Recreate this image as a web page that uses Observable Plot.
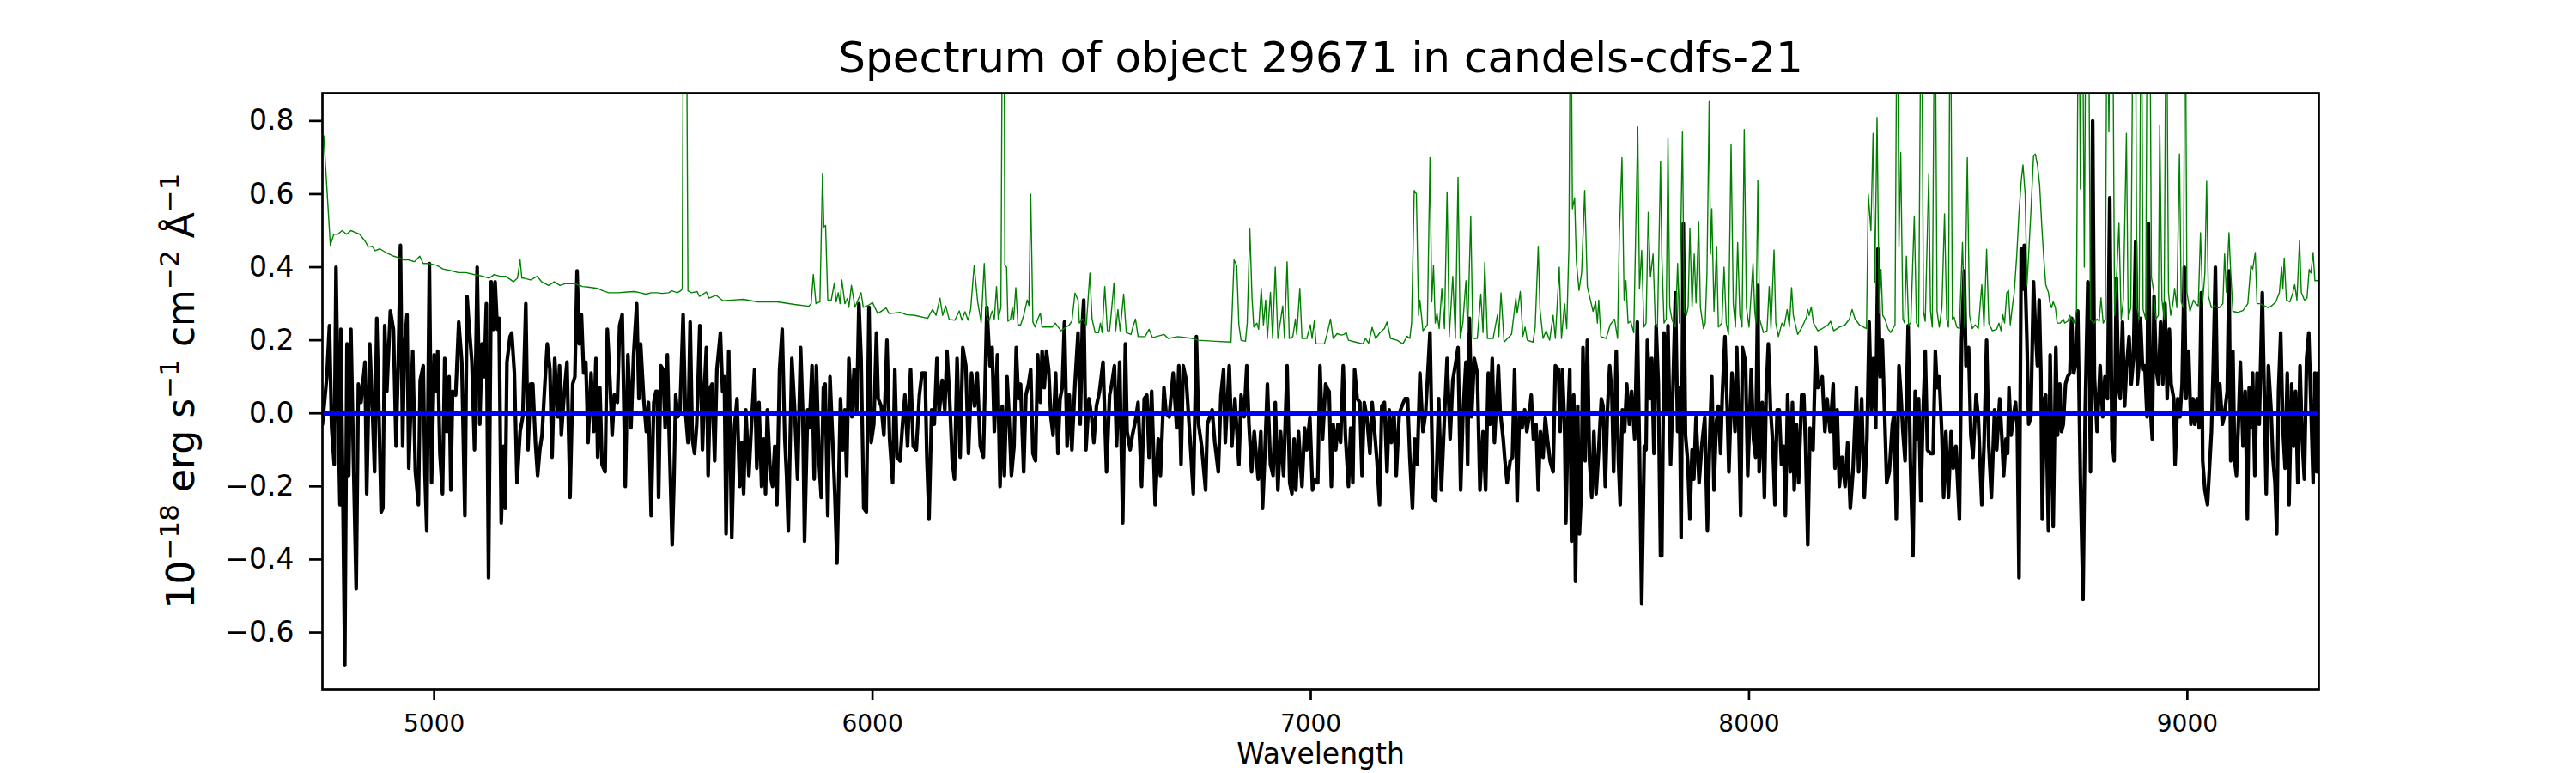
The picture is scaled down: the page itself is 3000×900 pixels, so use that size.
<!DOCTYPE html>
<html>
<head>
<meta charset="utf-8">
<script src="https://cdn.jsdelivr.net/npm/d3@7"></script>
<script src="https://cdn.jsdelivr.net/npm/@observablehq/plot@0.6"></script>
<style>
  html, body { margin: 0; padding: 0; background: #ffffff; }
</style>
</head>
<body>
<div id="chart"></div>
<script>
const titleText = ["Spectrum of object 29671 in candels-cdfs-21"];
const xLabelText = ["Wavelength"];
const yLabelParts = [["10", false], ["−18", true], [" erg s", false], ["−1", true], [" cm", false], ["−2", true], [" Å", false], ["−1", true]];
const xTicks = [5000, 6000, 7000, 8000, 9000];
const yTicks = [-0.6, -0.4, -0.2, 0, 0.2, 0.4, 0.6, 0.8];
const zeroLevel = [0];

// object flux [wavelength, flux]
const objectFlux = [
[4745,-0.03],[4755,0.10],[4761,0.24],[4766,-0.04],[4772,-0.14],[4776,0.40],[4781,-0.01],[4785,-0.25],[4787,0.23],[4792,-0.26],[4796,-0.69],[4801,0.19],[4805,-0.17],[4810,0.23],[4816,-0.14],[4822,-0.48],[4827,0.08],[4833,0.03],[4842,0.14],[4846,-0.22],[4853,0.19],[4859,0.01],[4864,-0.16],[4869,0.26],[4879,-0.27],[4883,-0.26],[4887,0.24],[4892,0.06],[4900,0.28],[4907,0.23],[4913,-0.09],[4918,0.14],[4923,0.46],[4928,-0.09],[4932,0.18],[4938,0.27],[4942,-0.15],[4951,0.17],[4957,-0.16],[4964,-0.25],[4968,0.09],[4975,0.13],[4979,-0.17],[4983,-0.32],[4989,0.41],[4994,-0.19],[5000,0.16],[5004,0.06],[5008,0.17],[5013,-0.11],[5019,-0.22],[5024,0.15],[5029,-0.05],[5034,0.10],[5038,-0.21],[5042,0.06],[5049,0.05],[5056,0.25],[5063,0.14],[5070,-0.28],[5075,0.32],[5079,0.25],[5086,0.14],[5092,-0.10],[5098,0.40],[5104,-0.03],[5109,0.19],[5114,0.10],[5119,0.30],[5124,-0.45],[5130,0.36],[5136,0.23],[5139,0.36],[5144,0.23],[5148,0.26],[5153,-0.30],[5158,-0.09],[5162,-0.26],[5166,0.14],[5173,0.21],[5177,0.22],[5183,0.11],[5189,-0.19],[5196,-0.05],[5202,-0.01],[5209,0.30],[5214,-0.10],[5220,0.08],[5225,0.08],[5231,-0.08],[5236,-0.17],[5241,-0.10],[5246,-0.06],[5252,0.07],[5258,0.19],[5264,0.12],[5269,-0.12],[5275,0.15],[5282,-0.01],[5286,0.13],[5290,-0.06],[5297,0.06],[5303,0.14],[5310,-0.23],[5316,0.08],[5321,0.10],[5326,0.39],[5331,0.19],[5336,0.27],[5341,0.11],[5346,0.14],[5351,-0.08],[5358,0.11],[5364,-0.05],[5369,0.15],[5373,-0.12],[5378,0.07],[5383,-0.14],[5390,-0.16],[5395,0.23],[5401,0.09],[5406,-0.06],[5411,0.05],[5418,0.03],[5423,0.24],[5429,0.27],[5436,-0.20],[5442,0.16],[5449,-0.04],[5455,0.16],[5462,0.30],[5467,0.04],[5471,0.19],[5478,0.04],[5484,-0.05],[5489,0.03],[5495,-0.28],[5501,0.03],[5506,0.06],
[5509,0.06],[5512,-0.23],[5517,0.13],[5522,0.12],[5527,-0.04],[5532,0.16],[5536,-0.05],[5543,-0.36],[5547,-0.19],[5551,0.05],[5556,-0.01],[5561,0.01],[5568,0.27],[5573,0.01],[5579,-0.08],[5584,0.25],[5589,-0.07],[5594,-0.11],[5599,-0.03],[5606,0.24],[5612,-0.10],[5617,0.08],[5621,0.18],[5625,-0.17],[5630,0.07],[5634,0.08],[5640,-0.13],[5645,0.12],[5653,0.22],[5658,0.06],[5662,0.10],[5666,-0.33],[5672,0.17],[5679,-0.34],[5685,-0.04],[5691,0.04],[5697,-0.20],[5702,-0.08],[5706,-0.22],[5711,0.01],[5718,-0.17],[5724,-0.03],[5731,0.12],[5736,-0.15],[5741,0.03],[5747,-0.20],[5752,-0.07],[5756,-0.22],[5760,0.01],[5767,-0.17],[5772,-0.20],[5777,-0.09],[5782,-0.25],[5788,0.12],[5794,0.23],[5800,-0.07],[5804,-0.17],[5808,-0.32],[5816,0.15],[5822,0.02],[5829,-0.18],[5836,0.18],[5841,0.00],[5845,-0.35],[5852,0.01],[5856,-0.04],[5862,0.13],[5867,-0.18],[5872,0.13],[5878,-0.13],[5883,-0.23],[5888,0.07],[5892,0.08],[5898,-0.28],[5903,0.10],[5909,-0.07],[5914,-0.22],[5919,-0.41],[5927,0.04],[5932,-0.10],[5937,0.01],[5941,-0.17],[5946,0.15],[5953,-0.01],[5958,0.12],[5964,0.00],[5969,0.30],[5974,0.15],[5980,-0.26],[5986,-0.27],[5992,0.29],[5997,-0.08],[6003,-0.03],[6009,0.22],[6013,0.04],[6020,0.02],[6026,-0.06],[6033,0.20],[6039,-0.07],[6046,-0.19],[6051,0.12],[6056,-0.12],[6063,-0.13],[6068,-0.04],[6074,0.05],[6080,-0.09],[6087,0.12],[6093,-0.09],[6100,-0.10],[6107,0.05],[6113,0.11],[6120,0.11],[6124,-0.12],[6129,-0.29],[6135,0.01],[6141,-0.03],[6147,0.15],[6152,0.00],[6159,0.09],[6165,0.01],[6170,0.17],[6176,0.04],[6182,-0.13],[6187,-0.18],[6193,0.15],[6200,-0.12],[6206,0.18],[6213,0.13],[6219,-0.11],[6226,0.11],[6233,0.02],[6239,0.11],[6246,-0.09],[6253,-0.12],[6261,0.29],[6268,0.13],
[6273,0.18],[6278,-0.05],[6285,0.16],[6291,-0.20],[6296,0.02],[6301,-0.17],[6307,0.10],[6311,0.01],[6317,-0.17],[6323,-0.09],[6328,0.18],[6333,0.04],[6338,0.08],[6345,-0.16],[6350,0.05],[6356,0.08],[6361,0.12],[6366,-0.11],[6372,-0.13],[6377,0.16],[6383,0.03],[6387,0.17],[6392,0.07],[6397,0.17],[6402,0.12],[6407,-0.01],[6412,-0.06],[6418,0.11],[6423,-0.11],[6428,0.04],[6433,0.07],[6438,0.25],[6444,-0.09],[6449,0.05],[6455,-0.10],[6462,0.08],[6469,0.22],[6474,-0.03],[6479,0.25],[6482,0.31],[6487,-0.10],[6494,0.04],[6500,-0.01],[6505,-0.08],[6511,0.02],[6518,0.06],[6526,0.14],[6534,-0.16],[6541,0.05],[6546,0.08],[6552,0.13],[6557,-0.09],[6564,0.14],[6571,-0.30],[6577,0.19],[6581,-0.05],[6588,-0.10],[6593,-0.06],[6600,-0.02],[6606,0.03],[6614,-0.20],[6620,0.04],[6626,0.05],[6631,-0.12],[6637,0.06],[6645,-0.25],[6652,-0.07],[6657,-0.17],[6665,0.07],[6670,0.00],[6677,-0.01],[6686,0.11],[6694,-0.04],[6699,0.13],[6704,-0.14],[6709,0.13],[6716,0.09],[6724,-0.06],[6732,-0.22],[6739,0.21],[6744,-0.03],[6751,-0.09],[6760,-0.21],[6764,-0.03],[6775,0.01],[6781,-0.08],[6789,-0.16],[6795,0.05],[6801,0.12],[6805,-0.08],[6814,0.13],[6820,-0.09],[6827,0.04],[6836,-0.14],[6841,0.05],[6848,-0.01],[6854,0.13],[6859,-0.03],[6865,-0.16],[6871,-0.05],[6880,-0.18],[6886,-0.05],[6890,-0.26],[6895,-0.12],[6901,0.08],[6908,-0.14],[6914,-0.17],[6919,0.03],[6925,-0.21],[6931,-0.05],[6938,-0.17],[6946,0.13],[6952,-0.19],[6957,-0.22],[6962,-0.07],[6966,-0.21],[6972,-0.05],[6980,-0.20],[6986,-0.04],[6991,-0.10],[6998,-0.01],[7004,-0.21],[7010,-0.18],[7016,-0.19],[7021,0.13],[7027,-0.07],[7034,0.08],
[7037,0.07],[7042,0.06],[7047,-0.20],[7051,-0.03],[7057,-0.10],[7062,-0.03],[7068,-0.08],[7074,0.13],[7079,-0.06],[7086,-0.20],[7091,-0.04],[7096,-0.19],[7100,0.12],[7106,0.04],[7112,0.03],[7117,-0.17],[7122,0.03],[7128,-0.01],[7135,-0.11],[7140,0.03],[7145,-0.04],[7151,-0.13],[7157,-0.25],[7162,0.02],[7168,0.03],[7174,-0.16],[7179,0.01],[7184,-0.08],[7190,0.00],[7195,-0.17],[7202,0.00],[7208,0.02],[7215,0.04],[7221,0.04],[7226,-0.12],[7232,-0.26],[7237,-0.07],[7243,-0.14],[7249,0.11],[7256,-0.05],[7262,0.00],[7272,0.22],[7279,-0.23],[7285,-0.24],[7292,0.04],[7298,-0.21],[7305,-0.01],[7311,0.15],[7318,-0.07],[7324,0.09],[7331,0.14],[7336,0.18],[7342,-0.21],[7347,-0.01],[7354,0.14],[7358,-0.14],[7362,0.26],[7367,-0.01],[7373,0.15],[7380,0.11],[7386,-0.21],[7393,-0.05],[7399,-0.21],[7405,0.11],[7409,-0.03],[7414,0.15],[7419,-0.08],[7428,0.13],[7432,0.01],[7439,-0.07],[7443,-0.13],[7448,-0.19],[7455,-0.13],[7460,-0.12],[7465,0.12],[7471,-0.24],[7476,0.00],[7482,-0.04],[7488,0.01],[7493,-0.05],[7498,-0.01],[7503,0.05],[7508,-0.07],[7514,-0.03],[7519,-0.21],[7524,-0.05],[7530,-0.12],[7535,-0.01],[7540,-0.07],[7546,-0.13],[7553,-0.16],[7558,0.13],[7565,0.12],[7569,-0.05],[7574,0.12],[7579,-0.03],[7582,-0.30],[7587,-0.01],[7591,0.12],[7595,-0.35],[7600,0.05],[7604,-0.46],[7609,0.02],[7613,-0.33],[7617,-0.22],[7621,0.18],[7626,-0.13],[7631,0.20],[7636,-0.13],[7641,-0.23],[7646,-0.05],[7651,-0.22],[7656,-0.12],[7663,0.04],[7667,0.02],[7672,-0.20],[7677,0.01],[7682,0.13],[7687,0.05],[7691,-0.16],[7697,0.17],[7702,-0.13],[7706,-0.25],[7711,0.01],[7716,-0.05],[7721,0.08],[7727,-0.03],[7732,0.06],[7739,-0.07],[7745,0.25],[7750,-0.10],[7755,-0.52],[7761,-0.09],[7765,-0.10],[7768,0.20],[7774,0.04],[7778,0.15],[7783,-0.11],[7788,0.24],[7793,0.08],[7798,-0.39],
[7801,-0.39],[7806,0.22],[7811,0.01],[7815,0.24],[7821,-0.14],[7826,0.05],[7832,0.33],[7837,-0.05],[7841,0.07],[7845,-0.34],[7850,0.52],[7855,-0.06],[7860,-0.13],[7865,-0.29],[7870,-0.10],[7874,-0.18],[7879,-0.01],[7886,-0.19],[7892,-0.09],[7899,-0.01],[7905,-0.32],[7911,-0.04],[7915,0.10],[7920,-0.21],[7925,-0.03],[7930,0.02],[7935,-0.11],[7939,0.05],[7945,0.21],[7950,0.02],[7954,-0.16],[7961,0.11],[7968,-0.05],[7972,0.18],[7976,0.00],[7981,-0.28],[7985,0.18],[7992,0.14],[7997,-0.17],[8005,0.12],[8010,-0.07],[8015,-0.12],[8020,0.35],[8023,-0.16],[8030,0.03],[8035,-0.23],[8039,0.05],[8044,0.19],[8049,0.01],[8054,-0.08],[8059,-0.25],[8064,0.01],[8069,0.01],[8074,-0.14],[8079,-0.09],[8083,-0.28],[8088,0.05],[8094,-0.16],[8099,0.03],[8103,-0.21],[8108,-0.03],[8113,-0.19],[8120,0.05],[8125,0.05],[8129,-0.09],[8134,-0.36],[8139,-0.04],[8146,-0.10],[8152,0.18],[8157,0.07],[8161,0.08],[8167,0.10],[8173,-0.05],[8178,0.04],[8185,-0.05],[8192,0.08],[8196,-0.15],[8201,0.01],[8206,-0.20],[8212,-0.12],[8219,-0.20],[8225,-0.08],[8231,-0.26],[8237,-0.16],[8245,0.07],[8250,-0.16],[8257,0.04],[8263,-0.23],[8269,-0.07],[8274,0.25],[8279,0.01],[8284,0.15],[8289,-0.04],[8294,0.45],[8299,0.10],[8304,0.20],[8309,0.01],[8314,-0.19],[8320,-0.16],[8327,-0.03],[8331,0.00],[8336,-0.29],[8342,0.13],[8346,0.06],[8351,-0.05],[8356,-0.13],[8363,0.24],[8368,-0.13],[8374,-0.39],[8379,0.06],[8384,-0.07],[8387,0.04],[8392,-0.24],[8397,0.00],[8402,0.17],[8407,-0.10],[8414,-0.11],[8420,-0.11],[8425,0.17],[8429,0.07],[8434,0.10],[8440,-0.06],[8444,-0.23],[8449,-0.05],[8455,-0.23],[8461,-0.05],[8466,-0.15],[8472,-0.09],[8480,-0.29],[8485,0.20],[8491,0.39],[8495,0.13],[8501,0.18],[8506,-0.06],[8511,-0.12],[8518,0.05],[8523,-0.01],[8527,-0.13],[8531,-0.25],[8536,-0.09],[8542,0.20],[8547,-0.09],[8553,-0.23],[8560,0.01],
[8565,-0.10],[8572,0.04],[8577,-0.07],[8581,-0.17],[8586,-0.07],[8590,-0.11],[8593,0.07],[8598,-0.06],[8603,-0.01],[8608,0.03],[8612,-0.04],[8616,-0.45],[8621,0.45],[8625,0.34],[8628,0.46],[8634,0.20],[8638,-0.03],[8643,-0.01],[8649,0.36],[8653,0.24],[8658,0.13],[8662,0.31],[8666,0.11],[8669,-0.29],[8674,0.04],[8677,0.05],[8683,-0.32],[8687,0.16],[8691,-0.13],[8694,-0.31],[8700,0.18],[8704,-0.06],[8709,0.08],[8713,-0.05],[8717,-0.03],[8722,0.08],[8727,0.10],[8732,0.11],[8736,0.26],[8741,0.11],[8747,0.15],[8750,0.28],[8756,-0.18],[8762,-0.51],[8767,0.01],[8773,0.36],[8775,0.35],[8779,-0.16],[8784,0.80],[8788,0.10],[8794,-0.05],[8798,0.05],[8801,0.13],[8807,-0.01],[8812,0.10],[8818,0.04],[8823,0.59],[8828,-0.07],[8833,-0.13],[8838,0.37],[8843,0.07],[8847,0.04],[8852,0.25],[8857,0.02],[8861,0.12],[8867,0.21],[8872,0.08],[8877,0.15],[8882,0.47],[8886,0.08],[8890,0.14],[8893,0.26],[8898,0.12],[8903,0.13],[8908,-0.01],[8911,0.52],[8916,0.01],[8920,-0.07],[8924,0.32],[8929,0.12],[8934,0.08],[8939,0.25],[8944,0.08],[8949,0.30],[8954,0.04],[8959,0.23],[8963,0.08],[8969,0.04],[8972,-0.14],[8978,0.04],[8983,-0.01],[8988,0.08],[8993,0.40],[8997,0.04],[9003,0.17],[9008,-0.03],[9013,0.04],[9017,-0.03],[9022,0.04],[9027,-0.04],[9032,0.33],[9035,-0.13],[9040,-0.21],[9046,-0.25],[9050,-0.16],[9055,-0.05],[9059,0.12],[9064,0.40],[9069,0.00],[9074,0.08],[9080,-0.03],[9084,-0.01],[9091,0.06],[9095,0.39],[9099,-0.13],[9104,0.17],[9108,-0.13],[9112,-0.17],[9117,-0.01],[9121,0.14],[9127,-0.09],[9132,0.06],[9137,-0.29],[9141,0.07],[9145,-0.04],[9149,0.11],[9154,-0.17],[9159,0.11],[9164,-0.03],[9171,0.33],[9176,0.02],[9180,-0.22],[9185,0.13],[9191,0.01],[9195,-0.12],[9200,-0.19],[9204,-0.33],[9208,0.06],[9213,0.22],[9218,-0.04],[9223,-0.15],[9228,0.11],[9232,-0.25],[9238,0.08],[9243,-0.09],[9247,0.06],[9252,-0.19],[9257,0.13],[9262,-0.07],[9267,-0.18],[9272,0.15],[9277,0.22],[9282,0.02],[9287,-0.19],[9291,0.11],[9295,-0.16],[9298,0.11]
];

// sky / error spectrum [wavelength, value]
const skyError = [
[4748,0.76],[4763,0.46],[4771,0.49],[4780,0.49],[4790,0.50],[4800,0.49],[4810,0.50],[4820,0.495],[4830,0.49],[4843,0.47],[4850,0.455],[4859,0.457],[4865,0.445],[4876,0.45],[4890,0.44],[4908,0.43],[4921,0.425],[4930,0.42],[4941,0.42],[4955,0.415],[4967,0.43],[4975,0.41],[4987,0.41],[5006,0.405],[5020,0.395],[5039,0.39],[5055,0.385],[5072,0.385],[5090,0.38],[5111,0.375],[5125,0.37],[5137,0.38],[5150,0.375],[5163,0.375],[5175,0.365],[5181,0.36],[5190,0.37],[5196,0.42],[5200,0.37],[5205,0.37],[5220,0.365],[5235,0.375],[5245,0.36],[5261,0.35],[5274,0.36],[5287,0.35],[5300,0.355],[5320,0.355],[5339,0.347],[5355,0.345],[5372,0.342],[5385,0.335],[5398,0.33],[5420,0.33],[5440,0.332],[5457,0.333],[5470,0.33],[5483,0.326],[5495,0.33],[5509,0.33],
[5520,0.328],[5535,0.33],[5542,0.335],[5555,0.33],[5562,0.335],[5566,0.34],[5569,1.3],[5575,1.3],[5579,0.335],[5587,0.33],[5600,0.333],[5605,0.32],[5621,0.332],[5627,0.315],[5643,0.323],[5659,0.308],[5680,0.31],[5705,0.312],[5738,0.305],[5783,0.305],[5822,0.298],[5855,0.293],[5860,0.30],[5865,0.38],[5871,0.30],[5880,0.305],[5886,0.656],[5889,0.51],[5893,0.514],[5898,0.31],[5906,0.31],[5913,0.357],[5917,0.305],[5922,0.33],[5926,0.30],[5930,0.365],[5937,0.30],[5943,0.315],[5946,0.29],[5952,0.35],[5960,0.29],[5974,0.33],[5979,0.29],[5990,0.295],[6000,0.303],[6012,0.273],[6031,0.288],[6038,0.273],[6064,0.276],[6077,0.27],[6097,0.268],[6126,0.26],[6137,0.284],[6145,0.268],[6154,0.315],[6160,0.268],[6167,0.294],[6175,0.257],[6188,0.255],[6198,0.28],[6204,0.255],[6211,0.278],[6218,0.255],[6224,0.284],[6232,0.405],[6240,0.305],[6248,0.248],[6255,0.41],[6260,0.268],[6266,0.253],[6273,0.28],
[6278,0.258],[6283,0.347],[6287,0.258],[6293,0.29],[6297,1.3],[6300,1.3],[6302,0.405],[6306,0.40],[6309,0.252],[6315,0.258],[6319,0.29],[6322,0.258],[6327,0.344],[6332,0.242],[6338,0.242],[6345,0.268],[6353,0.31],[6357,0.295],[6361,0.60],[6366,0.25],[6371,0.236],[6377,0.258],[6383,0.274],[6387,0.236],[6410,0.236],[6417,0.247],[6430,0.226],[6449,0.242],[6455,0.252],[6462,0.329],[6469,0.31],[6472,0.247],[6479,0.258],[6488,0.242],[6496,0.384],[6501,0.258],[6508,0.221],[6516,0.221],[6520,0.247],[6524,0.221],[6530,0.347],[6536,0.226],[6541,0.226],[6546,0.29],[6551,0.357],[6555,0.226],[6560,0.284],[6565,0.226],[6573,0.326],[6579,0.221],[6590,0.216],[6594,0.236],[6600,0.258],[6606,0.21],[6622,0.21],[6631,0.23],[6639,0.207],[6665,0.216],[6675,0.205],[6697,0.21],[6730,0.205],[6743,0.20],[6782,0.197],[6818,0.195],[6825,0.42],[6831,0.404],[6836,0.242],[6841,0.20],[6851,0.197],[6855,0.247],[6861,0.504],[6866,0.315],[6870,0.236],[6877,0.247],[6881,0.23],[6887,0.342],[6892,0.242],[6897,0.31],[6901,0.205],[6908,0.331],[6913,0.205],[6919,0.40],[6925,0.205],[6936,0.294],[6940,0.205],[6946,0.415],[6951,0.205],[6959,0.21],[6965,0.258],[6968,0.216],[6975,0.342],[6980,0.205],[6991,0.205],[6999,0.242],[7003,0.205],[7008,0.253],[7012,0.19],[7031,0.19],[7037,0.216],
[7045,0.258],[7051,0.205],[7060,0.218],[7070,0.214],[7076,0.216],[7081,0.221],[7086,0.20],[7102,0.195],[7119,0.19],[7125,0.205],[7132,0.192],[7140,0.235],[7148,0.205],[7158,0.221],[7168,0.232],[7174,0.25],[7182,0.205],[7197,0.20],[7210,0.19],[7220,0.211],[7226,0.205],[7230,0.247],[7236,0.61],[7241,0.60],[7246,0.268],[7249,0.31],[7256,0.226],[7266,0.242],[7272,0.70],[7276,0.305],[7280,0.405],[7284,0.247],[7288,0.274],[7293,0.232],[7299,0.342],[7305,0.232],[7311,0.606],[7316,0.21],[7324,0.375],[7330,0.205],[7336,0.646],[7341,0.205],[7347,0.247],[7354,0.363],[7358,0.221],[7365,0.54],[7370,0.205],[7380,0.205],[7388,0.326],[7393,0.221],[7397,0.413],[7403,0.205],[7416,0.205],[7426,0.27],[7429,0.21],[7434,0.33],[7441,0.195],[7458,0.216],[7468,0.315],[7471,0.274],[7478,0.333],[7484,0.211],[7489,0.236],[7494,0.20],[7507,0.195],[7512,0.236],[7519,0.457],[7523,0.285],[7530,0.205],[7537,0.226],[7545,0.20],[7553,0.268],[7558,0.205],[7567,0.40],[7572,0.205],[7579,0.30],[7584,0.232],[7589,0.457],[7593,1.3],[7597,0.56],[7602,0.59],[7606,0.415],[7612,0.336],[7618,0.385],[7625,0.61],[7631,0.347],[7638,0.31],[7644,0.279],[7650,0.305],[7654,0.247],[7657,0.31],[7662,0.21],[7674,0.205],[7683,0.242],[7693,0.258],[7700,0.205],[7704,0.488],[7710,0.70],[7715,0.31],[7719,0.363],[7724,0.247],[7730,0.252],[7737,0.221],[7746,0.784],[7750,0.34],[7755,0.446],[7760,0.236],[7765,0.247],[7770,0.55],[7775,0.373],[7781,0.436],[7786,0.247],[7791,0.236],[7798,0.69],
[7801,0.43],[7806,0.247],[7811,0.258],[7815,0.753],[7819,0.29],[7824,0.258],[7827,0.247],[7832,0.236],[7837,0.41],[7841,0.247],[7848,0.77],[7852,0.279],[7857,0.268],[7861,0.29],[7865,0.507],[7870,0.29],[7875,0.436],[7879,0.302],[7885,0.525],[7889,0.29],[7896,0.232],[7900,0.247],[7904,0.384],[7909,0.853],[7912,0.436],[7915,0.56],[7920,0.279],[7926,0.457],[7930,0.236],[7938,0.247],[7943,0.40],[7948,0.247],[7953,0.216],[7959,0.735],[7964,0.30],[7969,0.236],[7974,0.467],[7979,0.268],[7984,0.236],[7989,0.777],[7994,0.29],[8000,0.236],[8009,0.41],[8013,0.279],[8016,0.247],[8020,0.637],[8024,0.258],[8033,0.221],[8041,0.226],[8046,0.347],[8050,0.232],[8057,0.447],[8061,0.247],[8067,0.21],[8075,0.247],[8080,0.238],[8087,0.284],[8092,0.236],[8097,0.344],[8101,0.268],[8111,0.216],[8121,0.236],[8131,0.263],[8134,0.284],[8137,0.268],[8142,0.291],[8147,0.247],[8157,0.226],[8167,0.232],[8180,0.242],[8186,0.252],[8193,0.226],[8206,0.236],[8219,0.242],[8229,0.258],[8235,0.284],[8242,0.258],[8252,0.242],[8268,0.232],[8272,0.60],[8278,0.50],[8283,0.766],[8287,0.357],[8292,0.81],[8297,0.273],[8301,0.394],[8305,0.268],[8310,0.258],[8317,0.232],[8323,0.221],[8333,0.242],[8338,1.3],[8342,0.457],[8346,0.714],[8351,0.258],[8355,0.247],[8359,0.43],[8364,0.242],[8369,0.247],[8377,0.54],[8382,0.247],[8387,0.236],[8393,1.3],[8398,0.279],[8402,0.252],[8410,0.654],[8414,0.279],[8418,0.236],[8424,1.3],[8429,0.279],[8434,0.236],[8440,0.289],[8446,0.546],[8451,0.258],[8455,0.236],[8459,1.3],[8464,0.258],[8468,0.263],[8474,0.236],[8480,0.232],[8487,0.467],[8492,0.236],[8498,0.70],[8503,0.268],[8509,0.232],[8516,0.242],[8523,0.232],[8531,0.352],[8536,0.236],[8542,0.449],[8547,0.247],[8555,0.226],
[8565,0.23],[8570,0.247],[8575,0.226],[8579,0.27],[8583,0.247],[8588,0.33],[8592,0.336],[8596,0.242],[8601,0.294],[8605,0.33],[8611,0.436],[8616,0.55],[8621,0.635],[8625,0.68],[8630,0.60],[8634,0.35],[8638,0.436],[8643,0.55],[8649,0.703],[8653,0.71],[8658,0.68],[8663,0.625],[8668,0.51],[8673,0.415],[8677,0.352],[8683,0.331],[8686,0.305],[8690,0.289],[8694,0.305],[8699,0.289],[8703,0.247],[8710,0.247],[8717,0.258],[8720,0.247],[8727,0.252],[8732,0.268],[8736,0.258],[8741,0.247],[8747,0.279],[8752,1.3],[8756,0.614],[8760,1.3],[8765,0.40],[8769,1.3],[8774,1.3],[8779,0.258],[8787,0.247],[8794,0.258],[8799,0.252],[8803,0.316],[8808,0.247],[8813,0.258],[8817,1.3],[8821,0.77],[8825,1.3],[8829,1.3],[8834,0.268],[8839,0.384],[8844,0.52],[8849,0.258],[8854,0.31],[8861,0.766],[8865,0.258],[8871,0.29],[8877,1.3],[8881,1.3],[8885,0.29],[8890,0.258],[8895,1.3],[8899,0.284],[8905,0.258],[8909,1.3],[8914,1.3],[8918,0.373],[8923,0.336],[8928,0.258],[8934,0.268],[8937,0.787],[8942,0.31],[8947,0.258],[8952,1.3],[8957,0.331],[8962,0.268],[8967,0.30],[8971,0.342],[8976,0.289],[8982,0.71],[8986,0.305],[8991,0.289],[8995,1.3],[8999,0.331],[9006,0.279],[9014,0.31],[9019,0.30],[9025,0.294],[9030,0.494],[9035,0.305],[9040,0.384],[9044,0.635],[9048,0.321],[9055,0.289],[9061,0.294],[9068,0.289],[9073,0.289],[9081,0.30],[9085,0.436],[9089,0.331],[9095,0.494],[9099,0.384],[9104,0.279],[9114,0.276],[9127,0.281],[9138,0.30],[9145,0.405],[9149,0.394],[9155,0.44],[9159,0.30],[9166,0.30],[9176,0.294],[9185,0.289],[9192,0.294],[9202,0.305],[9210,0.331],[9215,0.40],[9218,0.34],[9221,0.425],[9226,0.310],[9234,0.305],[9241,0.331],[9245,0.352],[9250,0.310],[9256,0.473],[9260,0.331],[9267,0.310],[9273,0.315],[9278,0.394],[9282,0.384],[9287,0.44],[9291,0.363],[9300,0.363]
];

const FONT = "DejaVu Sans";

const chart = Plot.plot({
  width: 3000,
  height: 900,
  marginLeft: 375,
  marginRight: 300,
  marginTop: 108,
  marginBottom: 98,
  style: { fontFamily: FONT, background: "#ffffff", color: "#000000", overflow: "visible" },
  x: { domain: [4745, 9300], label: null },
  y: { domain: [-0.755, 0.876], label: null },
  marks: [
    Plot.line(objectFlux, { x: d => d[0], y: d => d[1], stroke: "#000000", strokeWidth: 4.2, clip: true }),
    Plot.line(skyError, { x: d => d[0], y: d => d[1], stroke: "#008000", strokeWidth: 1.4, clip: true }),
    Plot.ruleY(zeroLevel, { stroke: "#0000ff", strokeWidth: 5.5 }),
    Plot.frame({ stroke: "#000000", strokeWidth: 2.7 }),
    Plot.axisX({ ticks: xTicks, tickFormat: d3.format("d"), tickSize: 13, tickPadding: 17, fontSize: 28, strokeWidth: 2.7, label: null }),
    Plot.axisY({ ticks: yTicks, tickFormat: d3.format(".1f"), tickSize: 15, tickPadding: 18, fontSize: 33, strokeWidth: 2.7, label: null }),
    Plot.text(titleText, { text: d => d, frameAnchor: "top", lineAnchor: "bottom", dy: -25, fontSize: 50, fill: "#000000" }),
    Plot.text(xLabelText, { text: d => d, frameAnchor: "bottom", lineAnchor: "bottom", dy: 86, fontSize: 33, fill: "#000000" })
  ]
});

document.getElementById("chart").appendChild(chart);

// rotated y-axis label with superscripts
const svg = d3.select(chart);
const label = svg.append("text")
  .attr("transform", "translate(226,455) rotate(-90)")
  .attr("text-anchor", "middle")
  .attr("font-family", FONT)
  .attr("font-size", 44)
  .attr("fill", "#000000");
let raised = false;
yLabelParts.forEach(([s, sup]) => {
  const ts = label.append("tspan").text(s);
  if (sup) { ts.attr("font-size", 31).attr("dy", -18); raised = true; }
  else if (raised) { ts.attr("dy", 18); raised = false; }
});
</script>
</body>
</html>
